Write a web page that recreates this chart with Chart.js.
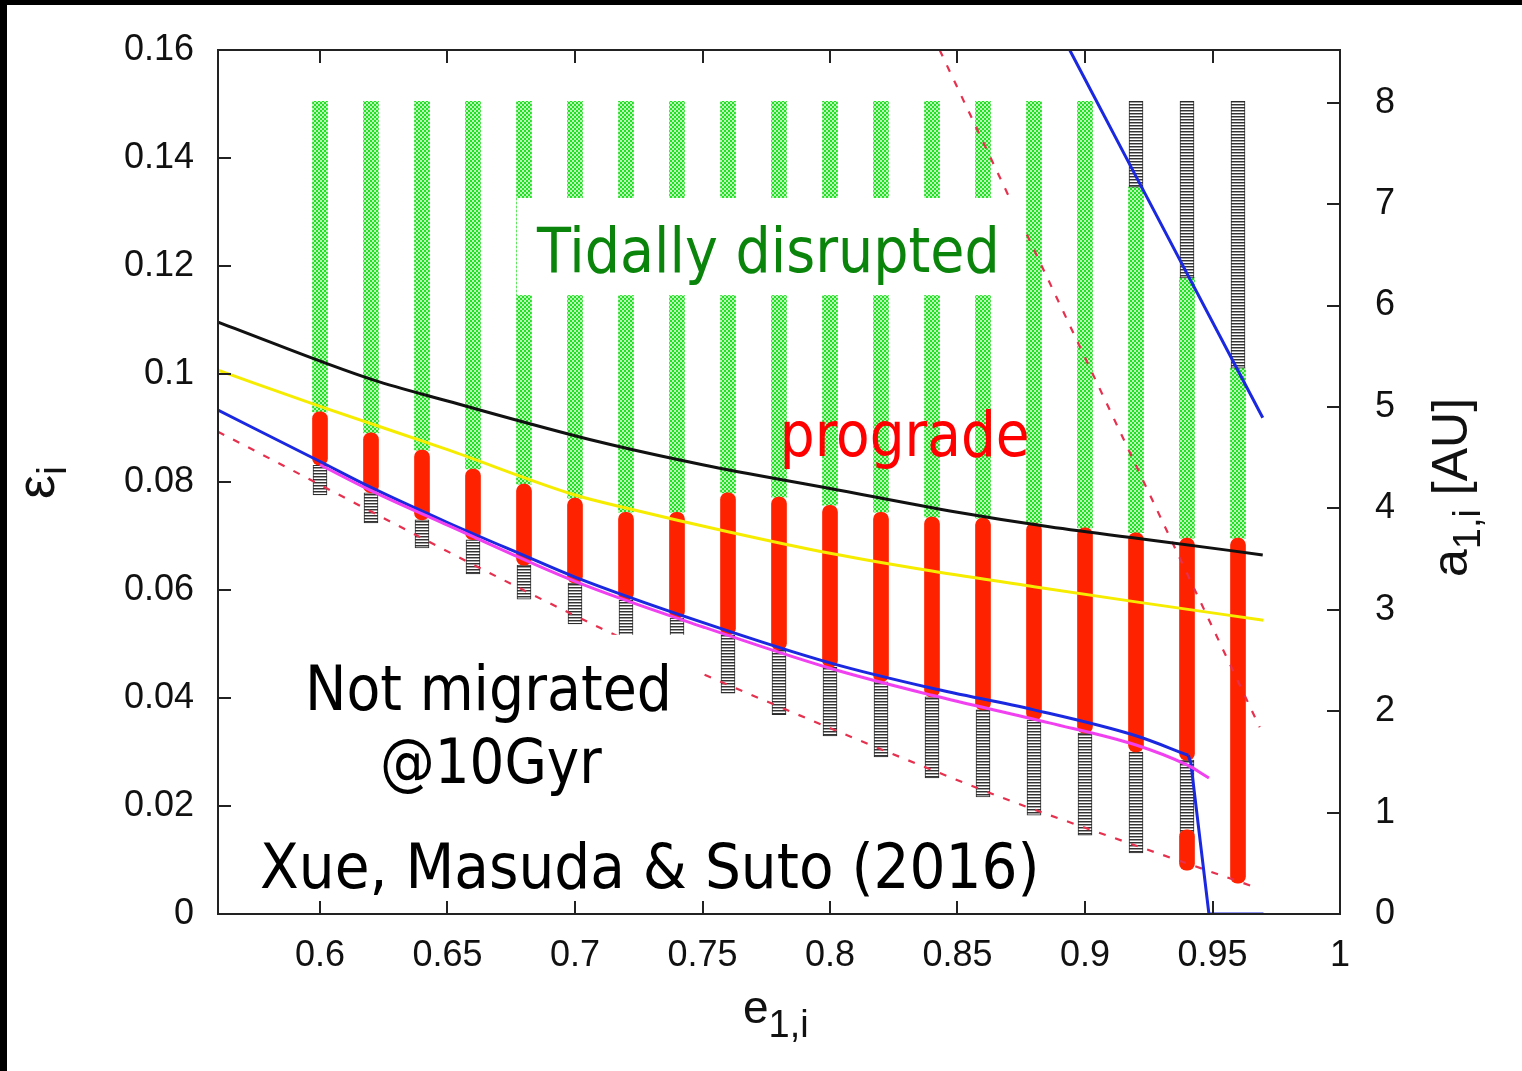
<!DOCTYPE html>
<html>
<head>
<meta charset="utf-8">
<title>Xue, Masuda &amp; Suto (2016)</title>
<script src="https://cdn.jsdelivr.net/npm/chart.js@4.4.0/dist/chart.umd.min.js"></script>
<style>
  html, body { margin: 0; padding: 0; background: #000; overflow: hidden; }
  #wrap { position: absolute; left: 7px; top: 5px; width: 1515px; height: 1066px; background: #fff; }
</style>
</head>
<body>
<div id="wrap"><canvas id="chart-data"></canvas></div>
<script>
// simulation grid: initial eccentricity e_1,i of each column
var eCols = [0.60, 0.62, 0.64, 0.66, 0.68, 0.70, 0.72, 0.74, 0.76, 0.78, 0.80, 0.82, 0.84, 0.86, 0.88, 0.90, 0.92, 0.94, 0.96];
// epsilon_i extent of each outcome in every column
var greenTop  = [0.1505, 0.1505, 0.1505, 0.1505, 0.1505, 0.1505, 0.1505, 0.1505, 0.1505, 0.1505, 0.1505, 0.1505, 0.1505, 0.1505, 0.1505, 0.1505, 0.1346, 0.1178, 0.1011];
var redTop    = [0.0930, 0.0891, 0.0859, 0.0824, 0.0796, 0.0770, 0.0744, 0.0744, 0.0780, 0.0772, 0.0757, 0.0744, 0.0735, 0.0733, 0.0724, 0.0715, 0.0706, 0.0696, 0.0696];
var redBottom = [0.0831, 0.0780, 0.0730, 0.0693, 0.0646, 0.0613, 0.0581, 0.0548, 0.0517, 0.0489, 0.0457, 0.0430, 0.0402, 0.0378, 0.0359, 0.0335, 0.0300, 0.0285, 0.0057];
var grayBottom = [0.0776, 0.0724, 0.0678, 0.0630, 0.0583, 0.0537, 0.0489, 0.0448, 0.0409, 0.0369, 0.0330, 0.0291, 0.0252, 0.0217, 0.0183, 0.0146, 0.0113, 0.0146, null];
// not-migrated runs at the top of the last columns
var grayTopCols = [0.92, 0.94, 0.96];
var grayTopHigh = [0.1505, 0.1505, 0.1505];
var grayTopLow  = [0.1346, 0.1178, 0.1011];
// extra prograde runs below the gap at e = 0.94
var redLowCols   = [0.94];
var redLowTop    = [0.0156];
var redLowBottom = [0.0081];

// curves
var blackE   = [0.56, 0.6208, 0.65, 0.7098, 0.75, 0.80, 0.85, 0.886, 0.93, 0.9697];
var blackEps = [0.1096, 0.0989, 0.0950, 0.0874, 0.0832, 0.0788, 0.0744, 0.0717, 0.0690, 0.0665];
var yellowE   = [0.56, 0.60, 0.65, 0.70, 0.72, 0.76, 0.80, 0.84, 0.88, 0.92, 0.97];
var yellowEps = [0.1007, 0.0940, 0.0860, 0.0776, 0.0752, 0.0708, 0.0668, 0.0635, 0.0606, 0.0578, 0.0544];
var blueE   = [0.56, 0.60, 0.62, 0.65, 0.68, 0.70, 0.75, 0.80, 0.84, 0.88, 0.92, 0.9405];
var blueEps = [0.0933, 0.0838, 0.0790, 0.0725, 0.0664, 0.0624, 0.0540, 0.0465, 0.0418, 0.0378, 0.0330, 0.0294];
var blueDropE   = [0.9405, 0.9415, 0.9486, 0.97];
var blueDropEps = [0.0294, 0.0280, 0, 0];
var magentaE   = [0.60, 0.62, 0.65, 0.70, 0.75, 0.80, 0.84, 0.886, 0.92, 0.94, 0.9486];
var magentaEps = [0.0832, 0.0784, 0.0720, 0.0616, 0.0532, 0.0455, 0.0405, 0.0354, 0.0313, 0.0276, 0.0252];
var blueUpE   = [0.894, 0.92, 0.9697];
var blueUpEps = [0.16, 0.1366, 0.0919];
var dashLowE   = [0.56, 0.7098, 0.7557, 0.8666, 0.8862, 0.9677];
var dashLowEps = [0.0893, 0.0530, 0.0433, 0.0217, 0.0183, 0.0048];
var dashUpE   = [0.843, 0.9685];
var dashUpEps = [0.16, 0.0346];

// axes
var xTicks = [0.6, 0.65, 0.7, 0.75, 0.8, 0.85, 0.9, 0.95, 1];
var yTicks = [0, 0.02, 0.04, 0.06, 0.08, 0.1, 0.12, 0.14, 0.16];
var auTicks = [0, 1, 2, 3, 4, 5, 6, 7, 8];
var auMax = 8.52;

function pts(xs, ys) {
    return xs.map(function (x, i) { return { x: x, y: ys[i] }; });
}
function ranges(xs, hi, lo) {
    var out = [];
    xs.forEach(function (x, i) {
        if (hi[i] != null && lo[i] != null) out.push({ x: x, y: [lo[i], hi[i]] });
    });
    return out;
}
function makePattern(w, h, draw) {
    var c = document.createElement("canvas");
    c.width = w; c.height = h;
    var g = c.getContext("2d");
    draw(g);
    return g.createPattern(c, "repeat");
}

var greenFill = makePattern(4, 4, function (g) {
    g.fillStyle = "#b8f2b8";
    g.fillRect(0, 0, 4, 4);
    g.fillStyle = "#22e022";
    for (var i = 0; i < 4; i++) { g.fillRect(i, i, 1, 1); g.fillRect(3 - i, i, 1, 1); }
});
var grayFill = makePattern(4, 3, function (g) {
    g.fillStyle = "#ffffff";
    g.fillRect(0, 0, 4, 3);
    g.fillStyle = "#333333";
    g.fillRect(0, 0, 4, 1);
    g.fillStyle = "#a0a0a0";
    g.fillRect(0, 1, 4, 1);
});

var redData = ranges(eCols, redTop, redBottom).concat(ranges(redLowCols, redLowTop, redLowBottom));
var grayData = ranges(eCols, redBottom, grayBottom).concat(ranges(grayTopCols, grayTopHigh, grayTopLow));
var greenData = ranges(eCols, greenTop, redTop);

// text placed in data units (e, eps)
var notes = [
    { text: "Tidally disrupted", e: 0.6851, eps: 0.1189, w: 0.1815, size: 63, color: "#0a840a",
      box: [0.6772, 0.1326, 0.8763, 0.1146] },
    { text: "prograde", e: 0.7803, eps: 0.0848, w: 0.098, size: 63, color: "#ff0000" },
    { text: "Not migrated", e: 0.5941, eps: 0.0378, w: 0.1439, size: 63, color: "#000",
      box: [0.5882, 0.0517, 0.7501, 0.0211] },
    { text: "@10Gyr", e: 0.6235, eps: 0.0243, w: 0.087, size: 63, color: "#000" },
    { text: "Xue, Masuda & Suto (2016)", e: 0.5765, eps: 0.0048, w: 0.3057, size: 63, color: "#000" }
];

function fitText(ctx, str, x, y, width, size, color) {
    ctx.save();
    ctx.font = size + 'px "DejaVu Sans"';
    ctx.fillStyle = color;
    ctx.textBaseline = "alphabetic";
    ctx.textAlign = "left";
    var w = ctx.measureText(str).width;
    ctx.translate(x, y);
    ctx.scale(width / w, 1);
    ctx.fillText(str, 0, 0);
    ctx.restore();
}

// main text + lowered subscript, starting at (0,0) in current transform
function subText(ctx, main, sub, rest, size, subSize, drop) {
    ctx.font = size + 'px "Liberation Sans"';
    ctx.fillText(main, 0, 0);
    var x = ctx.measureText(main).width;
    ctx.font = subSize + 'px "Liberation Sans"';
    ctx.fillText(sub, x, drop);
    x += ctx.measureText(sub).width;
    if (rest) {
        ctx.font = size + 'px "Liberation Sans"';
        ctx.fillText(rest, x, 0);
    }
}

var framePlugin = {
    id: "frame",
    afterDatasetsDraw: function (chart) {
        var ctx = chart.ctx, a = chart.chartArea;
        var sx = chart.scales.x, sy = chart.scales.y, s2 = chart.scales.y2;

        // labels with white boxes
        notes.forEach(function (n) {
            if (n.box) {
                var x0 = sx.getPixelForValue(n.box[0]), y0 = sy.getPixelForValue(n.box[1]);
                var x1 = sx.getPixelForValue(n.box[2]), y1 = sy.getPixelForValue(n.box[3]);
                ctx.fillStyle = "#fff";
                ctx.fillRect(x0, y0, x1 - x0, y1 - y0);
            }
        });
        notes.forEach(function (n) {
            var x = sx.getPixelForValue(n.e), y = sy.getPixelForValue(n.eps);
            var w = sx.getPixelForValue(n.e + n.w) - x;
            fitText(ctx, n.text, x, y, w, n.size, n.color);
        });

        // box and inward ticks
        ctx.save();
        ctx.strokeStyle = "#222";
        ctx.lineWidth = 2;
        ctx.strokeRect(a.left, a.top, a.right - a.left, a.bottom - a.top);
        ctx.beginPath();
        xTicks.forEach(function (v) {
            var p = Math.round(sx.getPixelForValue(v));
            ctx.moveTo(p, a.bottom); ctx.lineTo(p, a.bottom - 13);
            ctx.moveTo(p, a.top); ctx.lineTo(p, a.top + 13);
        });
        yTicks.forEach(function (v) {
            var p = Math.round(sy.getPixelForValue(v));
            ctx.moveTo(a.left, p); ctx.lineTo(a.left + 13, p);
        });
        auTicks.forEach(function (v) {
            var p = Math.round(s2.getPixelForValue(v));
            ctx.moveTo(a.right, p); ctx.lineTo(a.right - 13, p);
        });
        ctx.stroke();
        ctx.restore();
    },
    afterDraw: function (chart) {
        var ctx = chart.ctx;
        ctx.save();
        ctx.fillStyle = "#111";
        ctx.textBaseline = "alphabetic";
        // bottom title e_1,i
        ctx.save();
        ctx.translate(736, 1018);
        subText(ctx, "e", "1,i", "", 46, 38, 14);
        ctx.restore();
        // left title eps_i
        ctx.save();
        ctx.translate(47, 494);
        ctx.rotate(-Math.PI / 2);
        subText(ctx, "\u03b5", "i", "", 54, 40, 12);
        ctx.restore();
        // right title a_1,i [AU]
        ctx.save();
        ctx.translate(1460, 572);
        ctx.rotate(-Math.PI / 2);
        subText(ctx, "a", "1,i", " [AU]", 50, 38, 13);
        ctx.restore();
        ctx.restore();
    }
};

function lineSet(xs, ys, color, width, dash, straight) {
    return {
        type: "line",
        data: pts(xs, ys),
        borderColor: color,
        borderWidth: width,
        borderDash: dash || [],
        pointRadius: 0,
        fill: false,
        tension: 0,
        cubicInterpolationMode: straight ? "default" : "monotone",
        yAxisID: "y",
        order: 0
    };
}

function noPad(s) {
    s.paddingTop = 0; s.paddingBottom = 0;
    s.paddingLeft = 0; s.paddingRight = 0;
}

var tickFont = { family: '"Liberation Sans", Arial, sans-serif', size: 36 };

var ctx = document.getElementById("chart-data").getContext("2d");
var chart = new Chart(ctx, {
    type: "bar",
    data: {
        datasets: [
            lineSet(blackE, blackEps, "#111111", 3),
            lineSet(yellowE, yellowEps, "#f5ec00", 3),
            lineSet(magentaE, magentaEps, "#f040f0", 3),
            lineSet(blueE, blueEps, "#1a28e0", 3),
            lineSet(blueDropE, blueDropEps, "#1a28e0", 3, null, true),
            lineSet(blueUpE, blueUpEps, "#1a28e0", 3),
            lineSet(dashLowE, dashLowEps, "#e6304e", 2.2, [7, 10]),
            lineSet(dashUpE, dashUpEps, "#e6304e", 2.2, [7, 10], true),
            {
                label: "prograde",
                data: redData,
                backgroundColor: "#ff2200",
                borderWidth: 0,
                borderRadius: 7,
                borderSkipped: false,
                barThickness: 15,
                grouped: false,
                yAxisID: "y",
                order: 1
            },
            {
                label: "not migrated",
                data: grayData,
                backgroundColor: grayFill,
                borderColor: "#2a2a2a",
                borderWidth: 1,
                borderSkipped: false,
                barThickness: 14,
                grouped: false,
                yAxisID: "y",
                order: 2
            },
            {
                label: "tidally disrupted",
                data: greenData,
                backgroundColor: greenFill,
                borderWidth: 0,
                barThickness: 15,
                grouped: false,
                yAxisID: "y",
                order: 3
            }
        ]
    },
    options: {
        responsive: true,
        maintainAspectRatio: false,
        animation: false,
        events: [],
        layout: { padding: { top: 45, left: 0, right: 0, bottom: 0 } },
        plugins: {
            legend: { display: false },
            tooltip: { enabled: false }
        },
        scales: {
            x: {
                type: "linear",
                min: 0.56,
                max: 1.0,
                offset: false,
                grid: { display: false, drawTicks: false },
                border: { display: false },
                afterBuildTicks: function (s) { s.ticks = xTicks.map(function (v) { return { value: v }; }); },
                afterFit: function (s) { s.height = 157; noPad(s); },
                ticks: {
                    color: "#111",
                    font: tickFont,
                    padding: 20,
                    maxRotation: 0,
                    autoSkip: false,
                    callback: function (v) { return String(+v.toFixed(2)); }
                }
            },
            y: {
                position: "left",
                min: 0,
                max: 0.16,
                grid: { display: false, drawTicks: false },
                border: { display: false },
                afterBuildTicks: function (s) { s.ticks = yTicks.map(function (v) { return { value: v }; }); },
                afterFit: function (s) { s.width = 211; noPad(s); },
                ticks: {
                    color: "#111",
                    font: tickFont,
                    padding: 24,
                    autoSkip: false,
                    callback: function (v) { return String(+v.toFixed(2)); }
                }
            },
            y2: {
                position: "right",
                min: 0,
                max: auMax,
                grid: { display: false, drawTicks: false },
                border: { display: false },
                afterBuildTicks: function (s) { s.ticks = auTicks.map(function (v) { return { value: v }; }); },
                afterFit: function (s) { s.width = 182; noPad(s); },
                ticks: {
                    color: "#111",
                    font: tickFont,
                    padding: 35,
                    autoSkip: false
                }
            }
        }
    },
    plugins: [framePlugin]
});
</script>
</body>
</html>
